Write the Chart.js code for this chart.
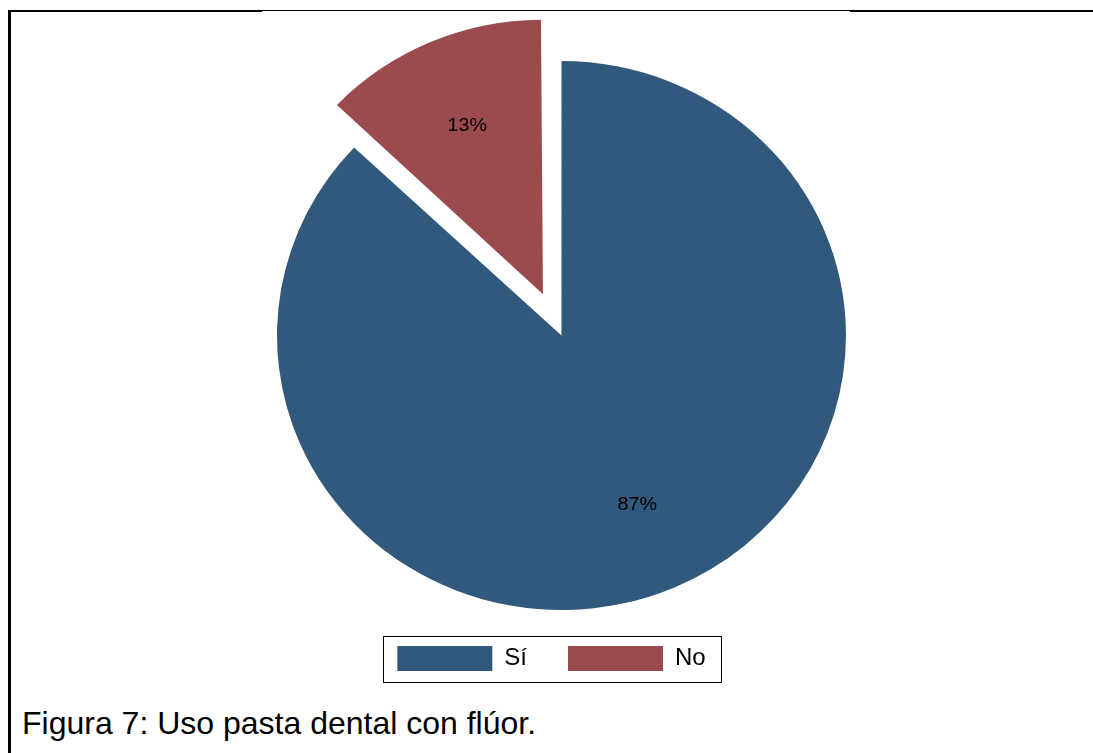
<!DOCTYPE html>
<html>
<head>
<meta charset="utf-8">
<title>Uso pasta dental con flúor</title>
<script src="https://cdn.jsdelivr.net/npm/chart.js@4.4.1/dist/chart.umd.min.js"></script>
<style>
  html, body { margin: 0; padding: 0; background: #fff; width: 1093px; height: 753px; overflow: hidden; }
  #wrap { position: absolute; left: 0; top: 0; width: 1093px; height: 690px; }
  .rule { position: absolute; background: #000; }
  #caption {
    position: absolute; left: 22px; top: 707px;
    font: 32px 'Liberation Sans', Arial, sans-serif; line-height: 1;
    color: #000; white-space: nowrap;
  }
</style>
</head>
<body>
<!-- frame lines -->
<div class="rule" style="left:8px;top:10px;width:3px;height:743px"></div>
<div class="rule" style="left:8px;top:10px;width:254px;height:2px"></div>
<div class="rule" style="left:262px;top:10px;width:588px;height:1px"></div>
<div class="rule" style="left:850px;top:10px;width:243px;height:2px"></div>

<div id="wrap"><canvas id="chart"></canvas></div>
<div id="caption">Figura 7: Uso pasta dental con flúor.</div>

<script>
// Data
const categories = ['Sí', 'No'];
const percentages = [87, 13];

// Styling
const sliceColors = ['#31597D', '#9B4A4E'];
const sliceOffsets = [0, 180];      // the "No" slice is pulled out of the pie
const X_STRETCH = 1.0364;           // pie is drawn slightly wider than tall
const LABEL_FONT = "19px 'Liberation Sans', Arial, sans-serif";

Chart.defaults.font.family = "'Liberation Sans', Arial, sans-serif";

const pieDecor = {
  id: 'pieDecor',
  beforeDatasetsDraw(chart) {
    const meta = chart.getDatasetMeta(0);
    const ctrl = meta.controller;
    // keep pulled-out slices at the same radius as the others
    meta.data.forEach(arc => {
      const shift = (arc.options.offset || 0) / 4;
      const fix = 1 - Math.sin(Math.min(Math.PI, arc.circumference));
      arc.outerRadius = ctrl.outerRadius - shift * fix;
    });
    // widen the pie to the right, keeping its left edge in place
    const pivot = meta.data[0].x - ctrl.outerRadius;
    const ctx = chart.ctx;
    ctx.save();
    ctx.translate(pivot, 0);
    ctx.scale(X_STRETCH, 1);
    ctx.translate(-pivot, 0);
  },
  afterDatasetsDraw(chart) {
    const meta = chart.getDatasetMeta(0);
    const ctrl = meta.controller;
    const ctx = chart.ctx;
    ctx.font = LABEL_FONT;
    ctx.fillStyle = '#000';
    ctx.textAlign = 'center';
    ctx.textBaseline = 'middle';
    meta.data.forEach((arc, i) => {
      const mid = (arc.startAngle + arc.endAngle) / 2;
      const d = (arc.options.offset || 0) / 4 + ctrl.outerRadius * 0.67;
      ctx.fillText(percentages[i] + '%', arc.x + Math.cos(mid) * d, arc.y + Math.sin(mid) * d);
    });
    ctx.restore();
  },
  afterDraw(chart) {
    // box around the legend entries
    const hb = chart.legend.legendHitBoxes;
    if (!hb || !hb.length) return;
    const first = hb[0], last = hb[hb.length - 1];
    const x0 = Math.round(first.left - 14) + 0.5;
    const x1 = Math.round(last.left + last.width + 15) + 0.5;
    const y0 = Math.round(first.top - 10) + 0.5;
    const y1 = Math.round(first.top + first.height + 11) + 0.5;
    const ctx = chart.ctx;
    ctx.save();
    ctx.strokeStyle = '#000';
    ctx.lineWidth = 1;
    ctx.strokeRect(x0, y0, x1 - x0, y1 - y0);
    ctx.restore();
  }
};

new Chart(document.getElementById('chart'), {
  type: 'pie',
  data: {
    labels: categories,
    datasets: [{
      data: percentages,
      backgroundColor: sliceColors,
      borderWidth: 0,
      offset: sliceOffsets,
      hoverOffset: 0
    }]
  },
  options: {
    responsive: true,
    maintainAspectRatio: false,
    animation: false,
    events: [],
    radius: 274.5,
    layout: { padding: { left: 10, right: 0, top: 66, bottom: 9 } },
    plugins: {
      legend: {
        position: 'bottom',
        labels: {
          boxWidth: 95,
          boxHeight: 25,
          padding: 41,
          color: '#000',
          font: { size: 24 }
        }
      },
      tooltip: { enabled: false }
    }
  },
  plugins: [pieDecor]
});
</script>
</body>
</html>
